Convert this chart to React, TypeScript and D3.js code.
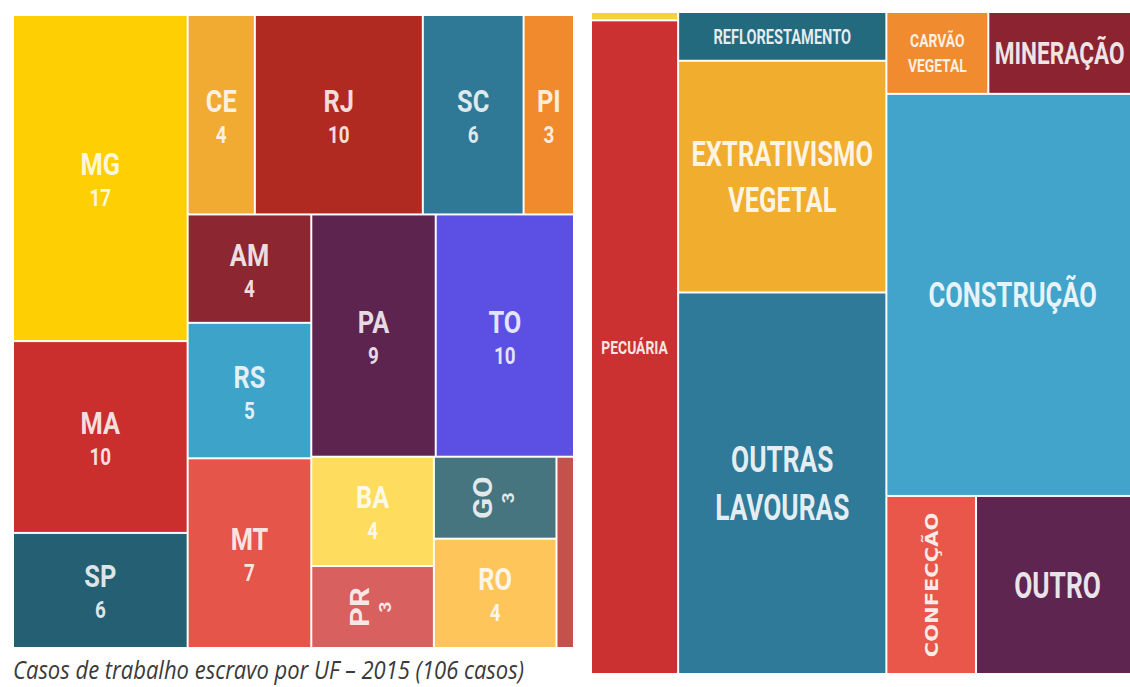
import { useEffect, useRef } from "react";
import * as d3 from "d3";

// Casos de trabalho escravo por UF - 2015
const ufNomes = ["MG", "MA", "SP", "CE", "RJ", "SC", "PI", "AM", "RS", "MT", "PA", "TO", "BA", "PR", "GO", "RO", ""];
const ufCasos = [17, 10, 6, 4, 10, 6, 3, 4, 5, 7, 9, 10, 4, 3, 3, 4, 1];
// grupo de layout (slice/dice) de cada UF
const ufGrupo = ["a", "a", "a", "c", "c", "c", "c", "e", "e", "e", "g", "g", "i", "i", "j", "j", "h"];
const ufGrupos = [["a", "raiz"], ["b", "raiz"], ["c", "b"], ["d", "b"], ["e", "d"], ["f", "d"], ["g", "f"], ["h", "f"], ["i", "h"], ["j", "h"]];
const ufCores = ["#fecf03", "#ca2f2e", "#245f73", "#f1aa32", "#b02a21", "#2f7896", "#f08a2d", "#8c2630", "#3da3c9", "#e5554a", "#5e2450", "#5c4fe4", "#fddc5e", "#d8605f", "#46757f", "#fdc55a", "#c4514b"];

// Setores (participação estimada, %)
const setorNomes = ["", "PECUÁRIA", "REFLORESTAMENTO", "EXTRATIVISMO\nVEGETAL", "OUTRAS\nLAVOURAS", "CARVÃO\nVEGETAL", "MINERAÇÃO", "CONSTRUÇÃO", "CONFECÇÃO", "OUTRO"];
const setorPct = [0.2, 15.7, 2.8, 13.3, 21.9, 2.3, 3.4, 28.0, 4.4, 8.0];
const setorGrupo = ["a", "a", "b", "b", "b", "d", "d", "c", "e", "e"];
const setorGrupos = [["a", "raiz"], ["b", "raiz"], ["c", "raiz"], ["d", "c"], ["e", "c"]];
const setorCores = ["#f2d33a", "#cb3131", "#236a7f", "#f1ad2e", "#2e7a98", "#f08b30", "#8b2430", "#42a4ca", "#e8574a", "#5e2550"];

const girados = new Set(["GO", "PR", "CONFECÇÃO"]);
const fonteSetor = { "PECUÁRIA": 19, "REFLORESTAMENTO": 20, "EXTRATIVISMO\nVEGETAL": 35, "OUTRAS\nLAVOURAS": 36, "CARVÃO\nVEGETAL": 19, "MINERAÇÃO": 31, "CONSTRUÇÃO": 35, "CONFECÇÃO": 21, "OUTRO": 36 };

function montar(nomes, valores, grupo, grupos, w, h) {
  const rows = [
    { id: "raiz", parent: null },
    ...grupos.map(([id, p]) => ({ id, parent: p })),
    ...nomes.map((n, i) => ({ id: "n" + i, parent: grupo[i], i, nome: n, value: valores[i] })),
  ];
  const root = d3.stratify().id((d) => d.id).parentId((d) => d.parent)(rows);
  root.sum((d) => d.value ?? 0);
  // mantém a ordem de leitura das folhas
  root.eachAfter((n) => {
    n.ordem = n.children ? d3.min(n.children, (c) => c.ordem) : n.data.i;
  });
  root.sort((a, b) => a.ordem - b.ordem);
  d3.treemap().tile(d3.treemapSliceDice).size([w, h]).paddingInner(2)(root);
  return root.leaves();
}

export default function App() {
  const svgRef = useRef(null);

  useEffect(() => {
    const svg = d3.select(svgRef.current);
    svg.selectAll("*").remove();
    const txt = "#ffffff";

    // ---- treemap UF
    const gL = svg.append("g").attr("transform", "translate(14,16)");
    const folhasUF = montar(ufNomes, ufCasos, ufGrupo, ufGrupos, 559, 631);
    const sxL = 0.82;
    folhasUF.forEach((d) => {
      gL.append("rect")
        .attr("x", d.x0).attr("y", d.y0)
        .attr("width", d.x1 - d.x0).attr("height", d.y1 - d.y0)
        .attr("fill", ufCores[d.data.i]);
      if (!d.data.nome) return;
      const cx = (d.x0 + d.x1) / 2;
      const cy = (d.y0 + d.y1) / 2;
      const rot = girados.has(d.data.nome);
      const t = gL.append("g")
        .attr("transform", `translate(${cx},${cy}) scale(${sxL},1)${rot ? " rotate(-90)" : ""}`)
        .attr("fill", txt).attr("fill-opacity", 0.85)
        .attr("font-family", "Roboto, sans-serif").attr("font-weight", 700)
        .attr("text-anchor", "middle");
      t.append("text").attr("y", rot ? -4 : -3).attr("font-size", 31).text(d.data.nome);
      t.append("text").attr("y", rot ? 23 : 28).attr("font-size", rot ? 19 : 23).text(ufCasos[d.data.i]);
    });

    svg.append("text")
      .attr("x", 13).attr("y", 679)
      .attr("font-family", "'Open Sans', sans-serif").attr("font-style", "italic")
      .attr("font-size", 25).attr("fill", "#3a3a3a")
      .attr("textLength", 511).attr("lengthAdjust", "spacingAndGlyphs")
      .text("Casos de trabalho escravo por UF – 2015 (106 casos)");

    // ---- treemap setores
    const gR = svg.append("g").attr("transform", "translate(592,13)");
    const folhasS = montar(setorNomes, setorPct, setorGrupo, setorGrupos, 546, 660);
    folhasS.forEach((d) => {
      gR.append("rect")
        .attr("x", d.x0).attr("y", d.y0)
        .attr("width", d.x1 - d.x0).attr("height", d.y1 - d.y0)
        .attr("fill", setorCores[d.data.i]);
      if (!d.data.nome) return;
      const cx = (d.x0 + d.x1) / 2;
      const cy = (d.y0 + d.y1) / 2;
      const rot = girados.has(d.data.nome);
      const fs = fonteSetor[d.data.nome];
      const linhas = d.data.nome.split("\n");
      const lh = fs * 1.32;
      const t = gR.append("g")
        .attr("transform", `translate(${cx - (d.data.nome === "MINERAÇÃO" ? 4 : 0)},${cy}) scale(${rot ? 0.86 : 0.73},1)${rot ? " rotate(-90)" : ""}`)
        .attr("fill", txt).attr("fill-opacity", 0.88)
        .attr("font-family", rot ? "'DejaVu Sans', sans-serif" : "Roboto, sans-serif")
        .attr("font-weight", 700)
        .attr("text-anchor", "middle");
      const cap = fs * (rot ? 0.73 : 0.711);
      linhas.forEach((l, k) => {
        t.append("text")
          .attr("y", cap / 2 + (k - (linhas.length - 1) / 2) * lh)
          .attr("font-size", fs)
          .text(l);
      });
    });
  }, []);

  return (
    <svg
      ref={svgRef}
      width={1130}
      height={687}
      style={{ position: "absolute", left: 0, top: 0, background: "#fff" }}
    ></svg>
  );
}
